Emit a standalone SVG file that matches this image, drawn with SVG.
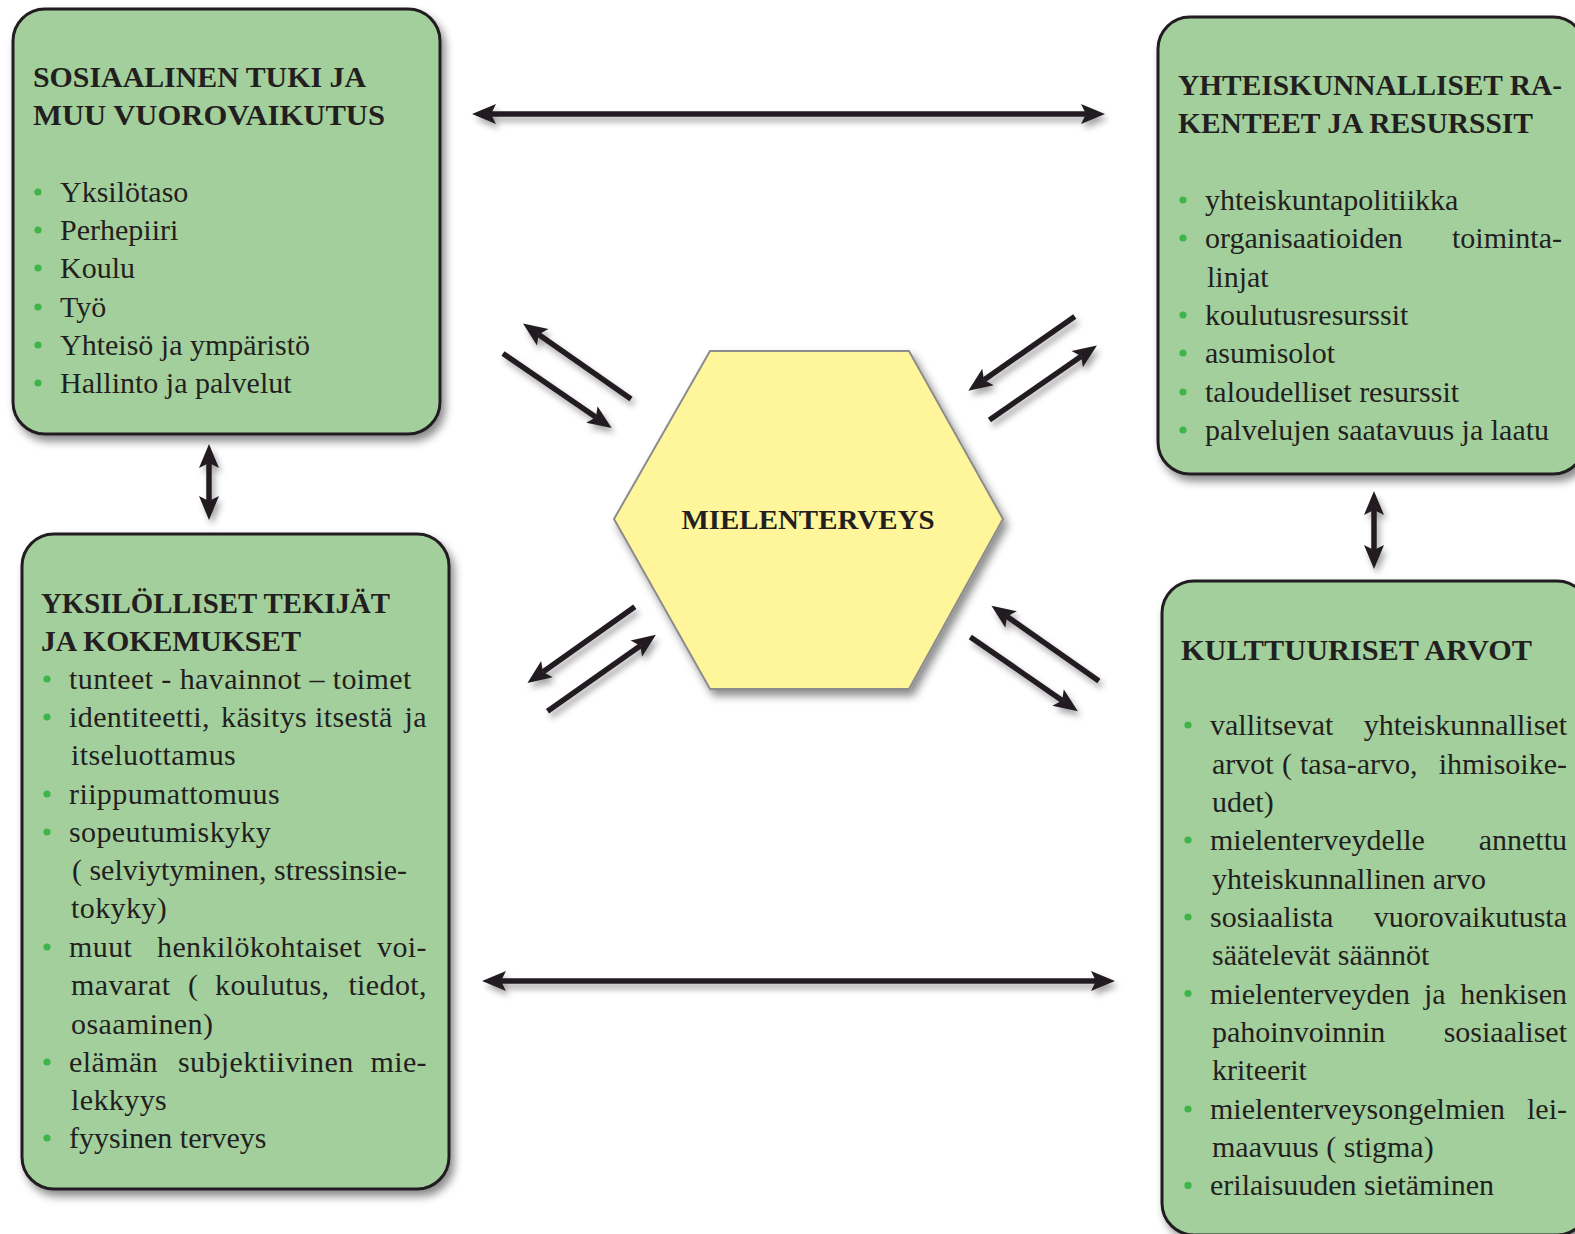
<svg xmlns="http://www.w3.org/2000/svg" width="1575" height="1234" viewBox="0 0 1575 1234">
<style>
.box{fill:#a3cf9c;stroke:#231f20;stroke-width:3}
.hex{fill:#fff59b;stroke:#8c8c8c;stroke-width:2}
.t{font-family:"Liberation Serif","Times New Roman",serif;font-size:29.5px;font-weight:bold;fill:#231f20}
.b{font-family:"Liberation Serif","Times New Roman",serif;font-size:30px;fill:#231f20}
.ls{letter-spacing:0.4px}
.e{text-anchor:end}
.dot{fill:#3db54a}
.arr{stroke:#231f20;stroke-width:5.5;fill:none;marker-end:url(#ah)}
.arr2{stroke:#231f20;stroke-width:5.5;fill:none;marker-start:url(#ah);marker-end:url(#ah)}
</style>
<defs>
<filter id="sh" x="-10%" y="-10%" width="130%" height="130%">
<feDropShadow dx="4" dy="6" stdDeviation="4" flood-color="#000" flood-opacity="0.45"/>
</filter>
<filter id="ash" x="-30%" y="-30%" width="160%" height="160%">
<feDropShadow dx="3" dy="5" stdDeviation="3" flood-color="#000" flood-opacity="0.35"/>
</filter>
<marker id="ah" markerUnits="userSpaceOnUse" markerWidth="24" markerHeight="20" refX="5" refY="10" orient="auto-start-reverse" overflow="visible">
<path d="M0,0 L24,10 L0,20 L5,10 Z" fill="#231f20"/>
</marker>
</defs>
<rect width="1575" height="1234" fill="#ffffff"/>

<g id="connectors" filter="url(#ash)">
<line class="arr2" x1="491" y1="114" x2="1086" y2="114"/>
<line class="arr2" x1="501" y1="981" x2="1096" y2="981"/>
<line class="arr2" x1="209" y1="463" x2="209" y2="501"/>
<line class="arr2" x1="1374" y1="510" x2="1374" y2="550"/>
<line class="arr" x1="631" y1="399" x2="538.6" y2="334.4"/>
<line class="arr" x1="503" y1="353.6" x2="596" y2="417.3"/>
<line class="arr" x1="1074.8" y1="316.4" x2="983.9" y2="379.9"/>
<line class="arr" x1="989.4" y1="419.9" x2="1081.3" y2="356.3"/>
<line class="arr" x1="634.8" y1="606.7" x2="542.9" y2="672.1"/>
<line class="arr" x1="547.5" y1="711.2" x2="640.4" y2="645.7"/>
<line class="arr" x1="1098.9" y1="681" x2="1007" y2="616.6"/>
<line class="arr" x1="970.3" y1="636.9" x2="1062.2" y2="700.4"/>
</g>

<g id="mielenterveys">
<polygon class="hex" filter="url(#sh)" points="710,351 909,351 1003,519 909,689 710,689 614,519"/>
<text class="t" x="808" y="529" text-anchor="middle" style="font-size:28px" textLength="253" lengthAdjust="spacingAndGlyphs">MIELENTERVEYS</text>
</g>

<g id="sosiaalinen-tuki">
<rect class="box" filter="url(#sh)" x="13" y="9" width="427" height="425" rx="32"/>
<text class="t" x="33" y="87" textLength="333" lengthAdjust="spacingAndGlyphs">SOSIAALINEN TUKI JA</text>
<text class="t" x="33" y="125" textLength="352" lengthAdjust="spacingAndGlyphs">MUU VUOROVAIKUTUS</text>
<circle class="dot" cx="38" cy="192" r="3.6"/><text class="b" x="60" y="202">Yksilötaso</text>
<circle class="dot" cx="38" cy="230" r="3.6"/><text class="b" x="60" y="240">Perhepiiri</text>
<circle class="dot" cx="38" cy="268" r="3.6"/><text class="b" x="60" y="278">Koulu</text>
<circle class="dot" cx="38" cy="307" r="3.6"/><text class="b" x="60" y="317">Työ</text>
<circle class="dot" cx="38" cy="345" r="3.6"/><text class="b" x="60" y="355">Yhteisö ja ympäristö</text>
<circle class="dot" cx="38" cy="383" r="3.6"/><text class="b" x="60" y="393">Hallinto ja palvelut</text>
</g>

<g id="yhteiskunnalliset-rakenteet">
<rect class="box" filter="url(#sh)" x="1158" y="17" width="427" height="457" rx="32"/>
<text class="t" x="1178" y="95" textLength="384" lengthAdjust="spacingAndGlyphs">YHTEISKUNNALLISET RA-</text>
<text class="t" x="1178" y="133" textLength="355" lengthAdjust="spacingAndGlyphs">KENTEET JA RESURSSIT</text>
<circle class="dot" cx="1183" cy="200" r="3.6"/><text class="b" x="1205" y="210">yhteiskuntapolitiikka</text>
<circle class="dot" cx="1183" cy="238" r="3.6"/><text class="b" x="1205" y="248">organisaatioiden</text><text class="b e" x="1562" y="248">toiminta-</text>
<text class="b" x="1207" y="287">linjat</text>
<circle class="dot" cx="1183" cy="315" r="3.6"/><text class="b" x="1205" y="325">koulutusresurssit</text>
<circle class="dot" cx="1183" cy="353" r="3.6"/><text class="b" x="1205" y="363">asumisolot</text>
<circle class="dot" cx="1183" cy="392" r="3.6"/><text class="b" x="1205" y="402">taloudelliset resurssit</text>
<circle class="dot" cx="1183" cy="430" r="3.6"/><text class="b" x="1205" y="440">palvelujen saatavuus ja laatu</text>
</g>

<g id="yksilolliset-tekijat">
<rect class="box" filter="url(#sh)" x="22" y="534" width="427" height="655" rx="32"/>
<text class="t" x="41" y="613" textLength="349" lengthAdjust="spacingAndGlyphs">YKSILÖLLISET TEKIJÄT</text>
<text class="t" x="41" y="651" textLength="260" lengthAdjust="spacingAndGlyphs">JA KOKEMUKSET</text>
<circle class="dot" cx="47" cy="679" r="3.6"/><text class="b ls" x="69" y="689">tunteet - havainnot – toimet</text>
<circle class="dot" cx="47" cy="717" r="3.6"/><text class="b ls" x="69" y="727">identiteetti,</text><text class="b ls" x="221" y="727">käsitys</text><text class="b ls" x="315" y="727">itsestä</text><text class="b ls e" x="427" y="727">ja</text>
<text class="b ls" x="71" y="765">itseluottamus</text>
<circle class="dot" cx="47" cy="794" r="3.6"/><text class="b ls" x="69" y="804">riippumattomuus</text>
<circle class="dot" cx="47" cy="832" r="3.6"/><text class="b ls" x="69" y="842">sopeutumiskyky</text>
<text class="b" x="72" y="880" textLength="335" lengthAdjust="spacingAndGlyphs">( selviytyminen, stressinsie-</text>
<text class="b ls" x="71" y="918">tokyky)</text>
<circle class="dot" cx="47" cy="947" r="3.6"/><text class="b ls" x="69" y="957">muut</text><text class="b ls" x="157" y="957">henkilökohtaiset</text><text class="b ls e" x="427" y="957">voi-</text>
<text class="b ls" x="71" y="995">mavarat</text><text class="b ls" x="188" y="995">(</text><text class="b ls" x="215" y="995">koulutus,</text><text class="b ls e" x="427" y="995">tiedot,</text>
<text class="b ls" x="71" y="1034">osaaminen)</text>
<circle class="dot" cx="47" cy="1062" r="3.6"/><text class="b ls" x="69" y="1072">elämän</text><text class="b ls" x="178" y="1072">subjektiivinen</text><text class="b ls e" x="427" y="1072">mie-</text>
<text class="b ls" x="71" y="1110">lekkyys</text>
<circle class="dot" cx="47" cy="1138" r="3.6"/><text class="b" x="69" y="1148">fyysinen terveys</text>
</g>

<g id="kulttuuriset-arvot">
<rect class="box" filter="url(#sh)" x="1162" y="581" width="427" height="654" rx="32"/>
<text class="t" x="1181" y="660" textLength="351" lengthAdjust="spacingAndGlyphs">KULTTUURISET ARVOT</text>
<circle class="dot" cx="1188" cy="725" r="3.6"/><text class="b" x="1210" y="735">vallitsevat</text><text class="b e" x="1567" y="735">yhteiskunnalliset</text>
<text class="b" x="1212" y="773.5">arvot</text><text class="b" x="1282" y="773.5">(</text><text class="b" x="1300" y="773.5">tasa-arvo,</text><text class="b e" x="1567" y="773.5">ihmisoike-</text>
<text class="b" x="1212" y="811.6">udet)</text>
<circle class="dot" cx="1188" cy="840" r="3.6"/><text class="b" x="1210" y="849.8">mielenterveydelle</text><text class="b e" x="1567" y="849.8">annettu</text>
<text class="b" x="1212" y="889">yhteiskunnallinen arvo</text>
<circle class="dot" cx="1188" cy="917" r="3.6"/><text class="b" x="1210" y="927.2">sosiaalista</text><text class="b e" x="1567" y="927.2">vuorovaikutusta</text>
<text class="b" x="1212" y="965.3">säätelevät säännöt</text>
<circle class="dot" cx="1188" cy="993.5" r="3.6"/><text class="b" x="1210" y="1003.5">mielenterveyden</text><text class="b" x="1424" y="1003.5">ja</text><text class="b e" x="1567" y="1003.5">henkisen</text>
<text class="b" x="1212" y="1041.7">pahoinvoinnin</text><text class="b e" x="1567" y="1041.7">sosiaaliset</text>
<text class="b" x="1212" y="1079.8">kriteerit</text>
<circle class="dot" cx="1188" cy="1109" r="3.6"/><text class="b" x="1210" y="1119">mielenterveysongelmien</text><text class="b e" x="1567" y="1119">lei-</text>
<text class="b" x="1212" y="1157.2">maavuus ( stigma)</text>
<circle class="dot" cx="1188" cy="1185.4" r="3.6"/><text class="b" x="1210" y="1195.4">erilaisuuden sietäminen</text>
</g>
</svg>
